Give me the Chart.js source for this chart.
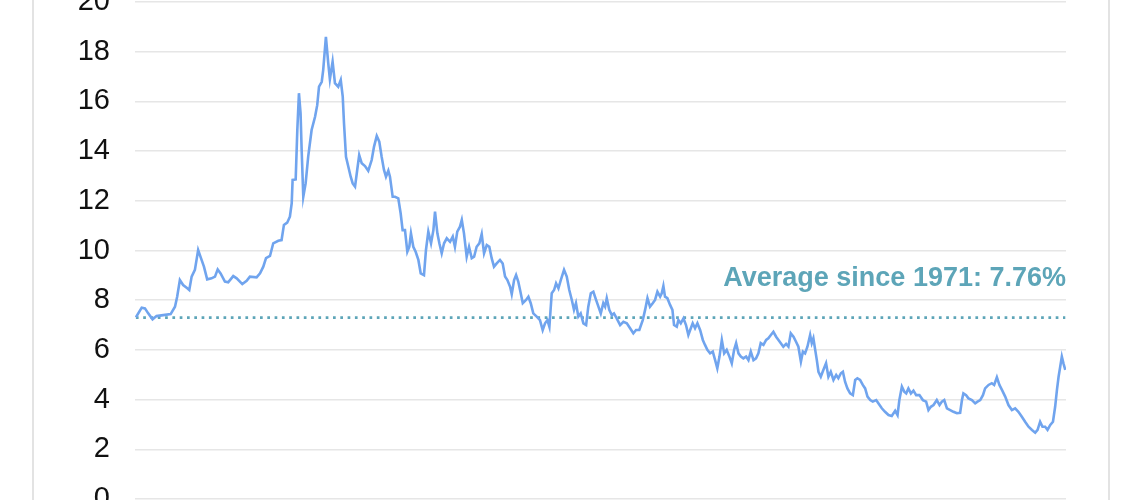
<!DOCTYPE html>
<html>
<head>
<meta charset="utf-8">
<script src="https://cdn.jsdelivr.net/npm/chart.js@4.4.1/dist/chart.umd.min.js"></script>
<style>
  html, body { margin: 0; padding: 0; background: #fff; overflow: hidden; }
  body { width: 1140px; height: 500px; position: relative; }
  #frame { position: absolute; left: 32px; top: 0; width: 1074px; height: 500px;
           border-left: 2px solid #e3e3e3; border-right: 2px solid #e3e3e3; }
  #myChart { position: absolute; left: 0; top: -20px; }
</style>
</head>
<body>
<div id="frame"></div>
<canvas id="myChart" width="1140" height="540"></canvas>
<script>
// values (decimal year, rate in %)
let years = [
  1971.30, 1971.62, 1971.80, 1971.98, 1972.22, 1972.44, 1972.81, 1973.22, 1973.46, 1973.58,
  1973.73, 1973.91, 1974.14, 1974.25, 1974.38, 1974.56, 1974.74, 1974.93, 1975.06, 1975.24,
  1975.48, 1975.67, 1975.82, 1975.98, 1976.22, 1976.40, 1976.68, 1976.87, 1977.18, 1977.42,
  1977.60, 1977.97, 1978.16, 1978.34, 1978.49, 1978.71, 1978.89, 1979.17, 1979.35, 1979.48,
  1979.66, 1979.81, 1979.91, 1979.96, 1980.13, 1980.22, 1980.31, 1980.40, 1980.46, 1980.55,
  1980.68, 1980.82, 1981.01, 1981.20, 1981.32, 1981.42, 1981.57, 1981.65, 1981.80, 1981.93,
  1982.02, 1982.17, 1982.30, 1982.48, 1982.62, 1982.73, 1982.80, 1982.91, 1983.04, 1983.17,
  1983.28, 1983.41, 1983.53, 1983.64, 1983.78, 1983.96, 1984.14, 1984.33, 1984.46, 1984.61,
  1984.75, 1984.88, 1985.01, 1985.12, 1985.25, 1985.34, 1985.49, 1985.62, 1985.80, 1985.93,
  1986.04, 1986.17, 1986.30, 1986.41, 1986.50, 1986.63, 1986.76, 1986.91, 1987.04, 1987.22,
  1987.33, 1987.46, 1987.61, 1987.74, 1987.83, 1987.96, 1988.07, 1988.20, 1988.33, 1988.48,
  1988.66, 1988.81, 1988.93, 1989.06, 1989.21, 1989.31, 1989.43, 1989.58, 1989.71, 1989.86,
  1989.99, 1990.13, 1990.28, 1990.41, 1990.54, 1990.69, 1990.83, 1990.96, 1991.09, 1991.24,
  1991.42, 1991.57, 1991.70, 1991.83, 1991.98, 1992.07, 1992.20, 1992.31, 1992.43, 1992.53,
  1992.68, 1992.86, 1992.99, 1993.12, 1993.26, 1993.45, 1993.63, 1993.78, 1993.91, 1994.04,
  1994.15, 1994.28, 1994.41, 1994.52, 1994.65, 1994.78, 1994.96, 1995.11, 1995.25, 1995.39,
  1995.51, 1995.62, 1995.75, 1995.88, 1996.03, 1996.18, 1996.30, 1996.44, 1996.58, 1996.73,
  1996.86, 1996.99, 1997.13, 1997.23, 1997.32, 1997.46, 1997.60, 1997.72, 1997.87, 1998.06,
  1998.24, 1998.43, 1998.61, 1998.79, 1998.94, 1999.12, 1999.31, 1999.44, 1999.57, 1999.71,
  1999.86, 1999.99, 2000.12, 2000.27, 2000.36, 2000.45, 2000.54, 2000.67, 2000.82, 2000.95,
  2001.04, 2001.19, 2001.28, 2001.41, 2001.56, 2001.70, 2001.83, 2001.93, 2002.07, 2002.20,
  2002.33, 2002.48, 2002.63, 2002.75, 2002.88, 2003.03, 2003.18, 2003.31, 2003.43, 2003.55,
  2003.68, 2003.81, 2003.95, 2004.10, 2004.23, 2004.36, 2004.47, 2004.60, 2004.73, 2004.87,
  2005.02, 2005.15, 2005.28, 2005.43, 2005.57, 2005.70, 2005.83, 2005.98, 2006.13, 2006.25,
  2006.39, 2006.53, 2006.68, 2006.81, 2006.94, 2007.08, 2007.23, 2007.36, 2007.49, 2007.64,
  2007.78, 2007.91, 2008.05, 2008.16, 2008.28, 2008.41, 2008.56, 2008.65, 2008.74, 2008.84,
  2008.93, 2009.02, 2009.15, 2009.29, 2009.44, 2009.57, 2009.70, 2009.85, 2010.00, 2010.12,
  2010.26, 2010.37, 2010.49, 2010.62, 2010.77, 2010.92, 2011.05, 2011.17, 2011.32, 2011.47,
  2011.60, 2011.73, 2011.88, 2012.02, 2012.21, 2012.33, 2012.52, 2012.70, 2012.89, 2013.07,
  2013.26, 2013.39, 2013.49, 2013.63, 2013.76, 2013.87, 2013.99, 2014.13, 2014.27, 2014.42,
  2014.60, 2014.79, 2014.97, 2015.10, 2015.23, 2015.38, 2015.56, 2015.71, 2015.84, 2015.97,
  2016.12, 2016.30, 2016.48, 2016.67, 2016.85, 2016.95, 2017.03, 2017.18, 2017.31, 2017.50,
  2017.68, 2017.81, 2017.96, 2018.11, 2018.23, 2018.42, 2018.60, 2018.73, 2018.88, 2019.02,
  2019.16, 2019.34, 2019.52, 2019.71, 2019.89, 2020.07, 2020.26, 2020.44, 2020.63, 2020.82,
  2021.00, 2021.13, 2021.27, 2021.40, 2021.55, 2021.68, 2021.83, 2021.98, 2022.10, 2022.20,
  2022.29, 2022.38, 2022.47, 2022.56, 2022.66
];
let rates = [
  7.31, 7.70, 7.67, 7.47, 7.23, 7.36, 7.40, 7.44, 7.74, 8.14,
  8.81, 8.61, 8.48, 8.41, 8.95, 9.22, 10.02, 9.62, 9.35, 8.84,
  8.88, 8.95, 9.24, 9.08, 8.75, 8.72, 8.97, 8.88, 8.65, 8.78,
  8.95, 8.92, 9.08, 9.35, 9.69, 9.78, 10.29, 10.39, 10.42, 11.03,
  11.12, 11.36, 11.90, 12.84, 12.86, 14.85, 16.33, 15.52, 14.04, 12.16,
  12.70, 13.77, 14.85, 15.38, 15.85, 16.59, 16.79, 17.26, 18.60, 17.53,
  16.89, 17.60, 16.73, 16.59, 16.86, 16.19, 15.12, 13.77, 13.37, 12.97,
  12.70, 12.57, 13.24, 13.84, 13.51, 13.40, 13.21, 13.64, 14.18, 14.61,
  14.38, 13.77, 13.24, 12.97, 13.21, 12.97, 12.16, 12.16, 12.10, 11.50,
  10.82, 10.82, 9.95, 10.15, 10.69, 10.15, 9.95, 9.62, 9.08, 9.01,
  10.02, 10.76, 10.29, 10.82, 11.56, 10.69, 10.29, 9.89, 10.29, 10.49,
  10.35, 10.56, 10.15, 10.76, 10.96, 11.23, 10.69, 9.75, 10.15, 9.69,
  9.75, 10.15, 10.29, 10.66, 9.89, 10.22, 10.15, 9.69, 9.35, 9.48,
  9.62, 9.48, 8.95, 8.81, 8.54, 8.24, 8.81, 9.01, 8.75, 8.41,
  7.88, 8.01, 8.14, 7.88, 7.47, 7.34, 7.20, 6.80, 7.07, 7.20,
  6.93, 8.28, 8.41, 8.68, 8.48, 8.81, 9.22, 8.95, 8.41, 8.01,
  7.61, 7.88, 7.34, 7.47, 7.07, 7.00, 7.74, 8.28, 8.34, 8.01,
  7.74, 7.47, 7.88, 7.74, 8.08, 7.61, 7.40, 7.47, 7.27, 7.00,
  7.13, 7.07, 6.87, 6.67, 6.80, 6.80, 7.20, 7.61, 8.08, 7.74,
  7.88, 8.01, 8.34, 8.14, 8.28, 8.57, 8.14, 8.08, 7.81, 7.61,
  7.00, 6.93, 7.20, 7.07, 7.27, 7.00, 6.60, 6.80, 7.07, 6.87,
  7.07, 6.80, 6.40, 6.20, 6.00, 5.86, 5.93, 5.59, 5.26, 5.73,
  6.40, 5.86, 6.00, 5.73, 5.46, 6.00, 6.27, 5.86, 5.73, 5.66,
  5.73, 5.59, 5.93, 5.59, 5.66, 5.86, 6.27, 6.20, 6.40, 6.47,
  6.60, 6.73, 6.53, 6.40, 6.27, 6.13, 6.24, 6.13, 6.67, 6.53,
  6.33, 6.13, 5.53, 5.93, 5.86, 6.13, 6.60, 6.27, 6.47, 6.00,
  5.59, 5.12, 4.92, 5.19, 5.46, 4.92, 5.12, 4.79, 4.99, 4.86,
  5.06, 5.12, 4.72, 4.45, 4.25, 4.18, 4.79, 4.86, 4.79, 4.59,
  4.45, 4.12, 3.98, 3.92, 3.98, 3.85, 3.65, 3.51, 3.38, 3.34,
  3.55, 3.38, 3.98, 4.52, 4.32, 4.25, 4.45, 4.25, 4.36, 4.18,
  4.18, 3.98, 3.92, 3.58, 3.71, 3.78, 3.98, 3.78, 3.92, 3.98,
  3.65, 3.58, 3.51, 3.45, 3.47, 3.98, 4.25, 4.18, 4.05, 3.98,
  3.85, 3.92, 3.98, 4.18, 4.45, 4.59, 4.66, 4.59, 4.90, 4.59,
  4.39, 4.12, 3.78, 3.58, 3.65, 3.51, 3.31, 3.11, 2.91, 2.78,
  2.67, 2.78, 3.11, 2.91, 2.91, 2.78, 2.98, 3.11, 3.71, 4.39,
  4.92, 5.32, 5.73, 5.46, 5.19
];
let yTicks = [0, 2, 4, 6, 8, 10, 12, 14, 16, 18, 20];
let avgLevel = 7.3;   // where the dotted line is drawn
let avgLabel = 'Average since 1971: 7.76%';

const avgText = {
    id: 'avgText',
    afterDatasetsDraw(chart) {
        const c = chart.ctx;
        const y = chart.scales.y.getPixelForValue(avgLevel);
        c.save();
        c.font = 'bold 27px "Liberation Sans", Arial, sans-serif';
        c.fillStyle = '#5da5b8';
        c.textAlign = 'right';
        c.textBaseline = 'alphabetic';
        c.fillText(avgLabel, chart.chartArea.right, y - 32);
        c.restore();
    }
};

var ctx = document.getElementById('myChart').getContext('2d');
var myChart = new Chart(ctx, {
    type: 'line',
    data: {
        datasets: [{
            data: years.map((yr, i) => ({x: yr, y: rates[i]})),
            borderColor: '#70a4ee',
            borderWidth: 2.6,
            pointRadius: 0,
            tension: 0
        }, {
            data: [{x: years[0], y: avgLevel}, {x: years[years.length - 1], y: avgLevel}],
            borderColor: '#5da5b8',
            borderWidth: 2.7,
            borderDash: [2.7, 4.6],
            pointRadius: 0
        }]
    },
    options: {
        responsive: false,
        animation: false,
        // canvas is 540 tall and shifted up 20px, so top/bottom labels get cut like the picture
        layout: { padding: { left: 0, right: 74, top: 22, bottom: 21 } },
        plugins: { legend: { display: false }, tooltip: { enabled: false } },
        scales: {
            x: {
                type: 'linear',
                display: false,
                min: 1971.25,
                max: 2022.7
            },
            y: {
                min: 0,
                max: 20,
                afterFit: (s) => {
                    s.width = 135;
                    // tick padding would otherwise push the plot box in at top and bottom
                    s.paddingTop = 0;
                    s.paddingBottom = 0;
                },
                afterBuildTicks: (s) => { s.ticks = yTicks.map(v => ({value: v})); },
                border: { display: false },
                grid: { color: '#e6e6e6', lineWidth: 1.5, drawTicks: false },
                ticks: {
                    padding: 25,
                    color: '#111',
                    font: { family: '"Liberation Sans", Arial, sans-serif', size: 29 }
                }
            }
        }
    },
    plugins: [avgText]
});
</script>
</body>
</html>
